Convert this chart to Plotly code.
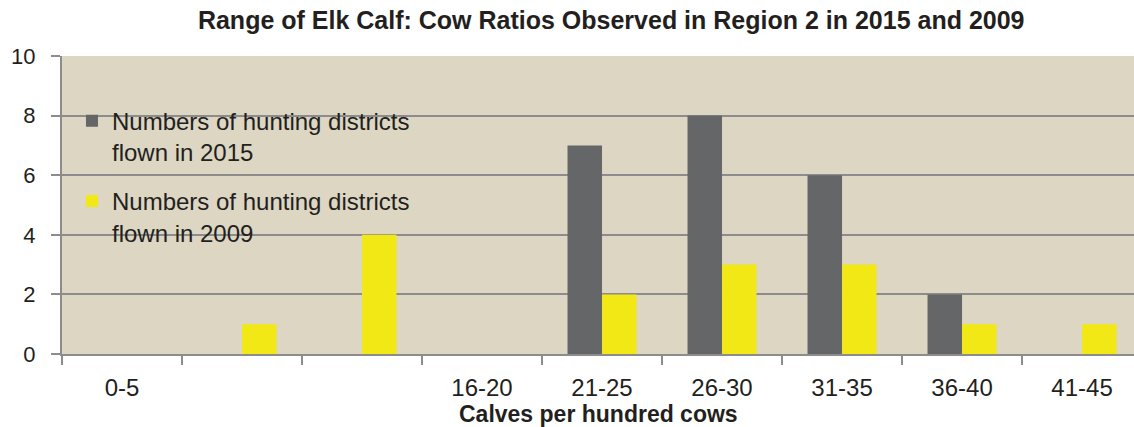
import plotly.graph_objects as go

categories = ["0-5", "6-10", "11-15", "16-20", "21-25", "26-30", "31-35", "36-40", "41-45"]
tick_labels = ["0-5", "", "", "16-20", "21-25", "26-30", "31-35", "36-40", "41-45"]
districts_2015 = [0, 0, 0, 0, 7, 8, 6, 2, 0]
districts_2009 = [0, 1, 4, 0, 2, 3, 3, 1, 1]
y_ticks = [0, 2, 4, 6, 8, 10]

FONT = "Liberation Sans, Arial, sans-serif"
TXT = "#231f20"
GRID = "#8c8c8c"

xs = list(range(len(categories)))

fig = go.Figure()
fig.add_trace(go.Bar(
    x=xs, y=districts_2015, name="Numbers of hunting districts<br>flown in 2015",
    marker=dict(color="#656667", line=dict(width=0)), legendgroup="a",
))
fig.add_trace(go.Bar(
    x=xs, y=districts_2009, name="Numbers of hunting districts<br>flown in 2009",
    marker=dict(color="#f2e815", line=dict(width=0)), legendgroup="b",
))

fig.update_layout(
    width=1134, height=427,
    margin=dict(l=62, r=0, t=56, b=73),
    paper_bgcolor="white",
    plot_bgcolor="#dcd6c3",
    barmode="group",
    bargap=0.425,
    bargroupgap=0,
    font=dict(family=FONT, size=23, color=TXT),
    title=dict(
        text="<b>Range of Elk Calf: Cow Ratios Observed in Region 2 in 2015 and 2009</b>",
        font=dict(family=FONT, size=25, color=TXT),
        x=0.539, xanchor="center", y=0.953, yanchor="middle",
    ),
    legend=dict(
        x=0.0093, y=0.857, xanchor="left", yanchor="top",
        bgcolor="rgba(0,0,0,0)",
        font=dict(family=FONT, size=24, color=TXT),
        tracegroupgap=15, valign="top",
        itemwidth=30,
    ),
    showlegend=True,
    annotations=[dict(
        text="<b>Calves per hundred cows</b>",
        xref="paper", yref="paper", x=0.5, y=(354 - 414) / 298,
        xanchor="center", yanchor="middle", showarrow=False,
        font=dict(family=FONT, size=23, color=TXT),
    )],
)

fig.update_xaxes(
    range=[-0.5, 8.433],
    tickmode="array", tickvals=xs, ticktext=tick_labels,
    ticks="", ticklabelstandoff=11,
    tickfont=dict(family=FONT, size=24, color=TXT),
    minor=dict(tickmode="array", tickvals=[i - 0.5 for i in range(len(categories) + 1)],
               ticks="outside", ticklen=9, tickwidth=2, tickcolor=GRID, showgrid=False),
    showline=True, linecolor=GRID, linewidth=2,
    showgrid=False, zeroline=False,
    fixedrange=True,
)
fig.update_yaxes(
    range=[0, 10], tickmode="array", tickvals=y_ticks,
    ticks="outside", ticklen=9, tickwidth=2, tickcolor=GRID,
    ticklabelstandoff=11,
    tickfont=dict(family=FONT, size=22, color=TXT),
    showline=True, linecolor=GRID, linewidth=2,
    showgrid=True, gridcolor=GRID, gridwidth=2,
    zeroline=False,
    fixedrange=True,
)

fig.write_html("out.html")
